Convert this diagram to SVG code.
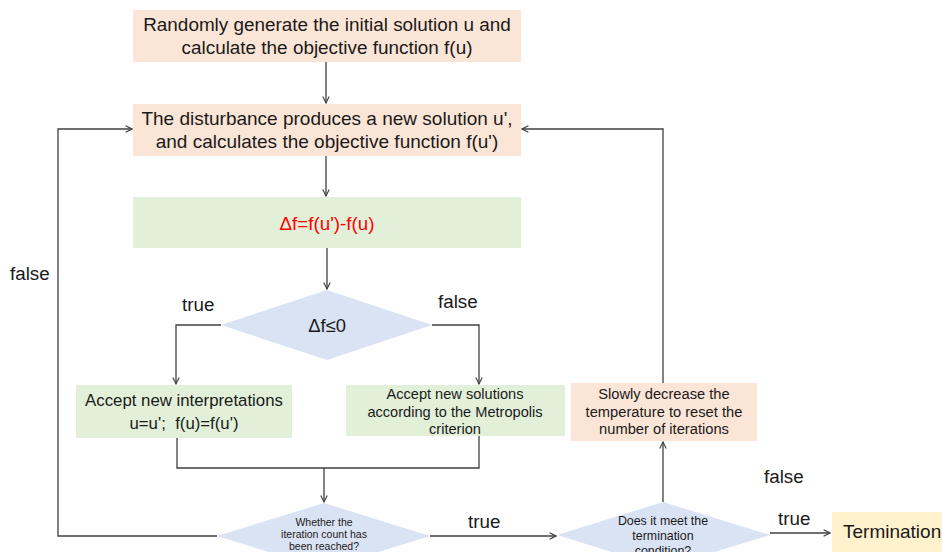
<svg xmlns="http://www.w3.org/2000/svg" width="942" height="552" viewBox="0 0 942 552">
<defs>
<marker id="arr" viewBox="0 0 10 10" refX="9" refY="5" markerWidth="8" markerHeight="8" markerUnits="userSpaceOnUse" orient="auto">
<path d="M1,1 L9,5 L1,9" fill="none" stroke="#404040" stroke-width="1.4"/>
</marker>
<style>
.peach{fill:#fbe5d6}
.green{fill:#e2f0d9}
.blue{fill:#dae3f3}
.yellow{fill:#fff2cc}
text{font-family:"Liberation Sans",Arial,sans-serif;fill:#1a1a1a;text-anchor:middle}
.lbl{font-size:18.8px;text-anchor:start}
.ln{fill:none;stroke:#404040;stroke-width:1.3}
.ar{marker-end:url(#arr)}
</style>
</defs>
<rect width="942" height="552" fill="#ffffff"/>
<g id="connectors">
<path class="ln ar" d="M326,62 V103"/>
<path class="ln ar" d="M326,156 V196"/>
<path class="ln ar" d="M327,248 V289"/>
<path class="ln ar" d="M221,325 H176 V384"/>
<path class="ln ar" d="M432,325 H479 V384"/>
<path class="ln" d="M177,438 V468 H479 V436"/>
<path class="ln ar" d="M324,468 V502"/>
<path class="ln ar" d="M217,536 H58 V129 H132"/>
<path class="ln ar" d="M430,536 H556"/>
<path class="ln ar" d="M663,502 V442"/>
<path class="ln ar" d="M663,383 V129 H522"/>
<path class="ln ar" d="M770,533 H830"/>
</g>
<g id="n1">
<rect class="peach" x="133" y="10" width="388" height="52"/>
<text x="327" y="31" font-size="18.9">Randomly generate the initial solution u and</text>
<text x="327" y="54" font-size="18.9">calculate the objective function f(u)</text>
</g>
<g id="n2">
<rect class="peach" x="133" y="104" width="388" height="52"/>
<text x="327" y="125" font-size="19">The disturbance produces a new solution u',</text>
<text x="327" y="148" font-size="19">and calculates the objective function f(u')</text>
</g>
<g id="n3">
<rect class="green" x="133" y="197" width="388" height="51"/>
<text x="327" y="230" font-size="18.8" style="fill:#ff0000">Δf=f(u')-f(u)</text>
</g>
<g id="n4">
<polygon class="blue" points="327,290 432,325 327,360 221,325"/>
<text x="327" y="332" font-size="18.4">Δf≤0</text>
</g>
<g id="n5">
<rect class="green" x="76" y="385" width="216" height="53"/>
<text x="184" y="406" font-size="16.8">Accept new interpretations</text>
<text x="184" y="429" font-size="16.8" xml:space="preserve">u=u';  f(u)=f(u')</text>
</g>
<g id="n6">
<rect class="green" x="346" y="385" width="219" height="51"/>
<text x="455" y="399" font-size="14.6">Accept new solutions</text>
<text x="455" y="417" font-size="14.6">according to the Metropolis</text>
<text x="455" y="434" font-size="14.6">criterion</text>
</g>
<g id="n7">
<rect class="peach" x="571" y="383" width="186" height="58"/>
<text x="664" y="399" font-size="14.7">Slowly decrease the</text>
<text x="664" y="417" font-size="14.7">temperature to reset the</text>
<text x="664" y="434" font-size="14.7">number of iterations</text>
</g>
<g id="n8">
<polygon class="blue" points="324,503 430,536 324,569 217,536"/>
<text x="324" y="526" font-size="10.5">Whether the</text>
<text x="324" y="538" font-size="10.5">iteration count has</text>
<text x="324" y="550" font-size="10.5">been reached?</text>
</g>
<g id="n9">
<polygon class="blue" points="663,502 770,535 663,568 557,535"/>
<text x="663" y="525" font-size="12.4">Does it meet the</text>
<text x="663" y="540" font-size="12.4">termination</text>
<text x="663" y="555" font-size="12.4">condition?</text>
</g>
<g id="n10">
<rect class="yellow" x="832" y="512" width="115" height="45"/>
<text x="843" y="538" font-size="19" style="text-anchor:start">Termination</text>
</g>
<g id="labels">
<text class="lbl" x="10" y="280">false</text>
<text class="lbl" x="182" y="311">true</text>
<text class="lbl" x="438" y="308">false</text>
<text class="lbl" x="468" y="528">true</text>
<text class="lbl" x="764" y="483">false</text>
<text class="lbl" x="778" y="525">true</text>
</g>
</svg>
